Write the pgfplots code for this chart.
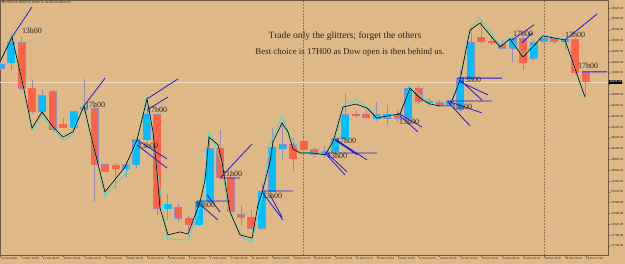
\documentclass[border=0pt]{standalone}
\usepackage{pgfplots}
\pgfplotsset{compat=1.18}
\usepackage{pgfplotstable}
\usepackage{fontspec}
\setmainfont{Liberation Serif}
\newfontfamily\tickfont{Liberation Sans}
\newfontfamily\symfont{DejaVu Sans}
\definecolor{bg}{RGB}{222,184,135}
\definecolor{bull}{RGB}{0,191,255}
\definecolor{bear}{RGB}{255,99,71}
\definecolor{wick}{RGB}{150,140,185}
\definecolor{zz}{RGB}{64,224,208}
\definecolor{tl}{RGB}{30,30,220}
\definecolor{axc}{RGB}{110,90,70}
\definecolor{txt}{RGB}{45,38,30}
\definecolor{pline}{RGB}{240,222,190}
\definecolor{sep}{RGB}{150,118,85}

% bullish (blue) candles: x o h l c
\pgfplotstableread{
x o h l c
0.6 48398 48428 48391 48413
11.05 48417 48513 48391 48491
42.4 48236 48317 48225 48295
73.75 48180 48243 48151 48236
84.2 48243 48358 48236 48254
126.0 48025 48054 47991 48040
136.45 48040 48139 48028 48132
146.9 48132 48243 48125 48228
167.8 47877 47932 47836 47895
199.15 47818 47910 47814 47906
209.6 47903 48143 47899 48099
261.85 47806 47973 47803 47943
272.3 47943 48176 47940 48106
282.75 48099 48199 48058 48114
324.55 48077 48114 48065 48088
335.0 48088 48143 48077 48136
345.45 48136 48306 48128 48225
376.8 48210 48273 48202 48225
387.25 48213 48262 48188 48228
408.15 48213 48332 48188 48324
429.05 48269 48287 48258 48276
449.95 48265 48280 48258 48273
460.4 48243 48391 48236 48361
470.85 48361 48546 48354 48491
512.65 48472 48513 48421 48506
533.55 48435 48502 48428 48491
544.0 48498 48524 48495 48506
564.9 48495 48509 48465 48502
}\bulltab

% bearish (red) candles: x o h l c
\pgfplotstableread{
x o h l c
21.5 48491 48513 48317 48324
31.95 48324 48354 48228 48236
52.85 48310 48317 48162 48169
63.3 48191 48213 48176 48180
94.65 48247 48262 47903 48040
105.1 48040 48047 48014 48017
115.55 48036 48047 47951 48025
157.35 48225 48232 47855 47880
178.25 47884 47895 47829 47843
188.7 47843 47851 47795 47818
220.05 48102 48169 47984 47995
230.5 47995 48003 47862 47869
240.95 47855 47892 47818 47847
251.4 47847 47873 47799 47806
293.2 48114 48139 48014 48062
303.65 48128 48139 48088 48095
314.1 48095 48102 48069 48080
355.9 48228 48243 48213 48221
366.35 48228 48243 48210 48217
397.7 48228 48243 48199 48213
418.6 48324 48332 48265 48273
439.5 48269 48280 48254 48262
481.3 48513 48576 48487 48495
491.75 48498 48517 48484 48491
502.2 48484 48502 48465 48472
523.1 48506 48513 48391 48417
554.45 48506 48513 48487 48495
575.35 48502 48509 48373 48380
585.8 48380 48380 48291 48347
}\beartab

\begin{document}
\begin{tikzpicture}
\useasboundingbox (0,0) rectangle (625pt,-264pt);
\fill[bg] (0,0) rectangle (625pt,-264pt);
\begin{axis}[
  at={(0pt,0pt)}, anchor=north west,
  scale only axis, width=608pt, height=255pt,
  xmin=0, xmax=608, ymin=47706.5, ymax=48650,
  clip mode=individual,
  axis line style={axc, line width=0.6pt},
  tick style={axc, line width=0.4pt},
  tick align=outside, major tick length=2pt,
  scaled y ticks=false,
  ytick={47740,47780,...,48620},
  ytick pos=right, yticklabel pos=right,
  /pgf/number format/assume math mode=true,
  /pgf/number format/fixed,
  /pgf/number format/fixed zerofill,
  /pgf/number format/precision=2,
  /pgf/number format/1000 sep={},
  yticklabel style={font=\tickfont\fontsize{2.9}{3.2}\selectfont, text=txt, inner sep=1pt},
  xtick={0.6,21.5,42.4,63.3,84.2,105.1,126.0,146.9,167.8,188.7,209.6,230.5,251.4,272.3,293.2,314.1,335.0,355.9,376.8,397.7,418.6,439.5,460.4,481.3,502.2,523.1,544.0,564.9,585.8},
  xticklabels={14 Dec 2020,14 Dec 13:00,14 Dec 21:00,15 Dec 05:00,15 Dec 13:00,15 Dec 21:00,16 Dec 05:00,16 Dec 13:00,16 Dec 21:00,17 Dec 05:00,17 Dec 13:00,17 Dec 21:00,18 Dec 05:00,18 Dec 13:00,18 Dec 21:00,21 Dec 05:00,21 Dec 13:00,21 Dec 21:00,22 Dec 05:00,22 Dec 13:00,22 Dec 21:00,23 Dec 05:00,23 Dec 13:00,23 Dec 21:00,24 Dec 05:00,24 Dec 13:00,28 Dec 01:00,28 Dec 09:00,28 Dec 17:00},
  xtick pos=bottom,
  xticklabel style={font=\tickfont\fontsize{2.8}{3.1}\selectfont, text=txt, anchor=north west, inner sep=0.8pt, xshift=-0.5pt},
]
% period separators
\addplot[sep, densely dotted, line width=0.5pt, forget plot] coordinates {(303.65,47706.5) (303.65,48650)};
\addplot[sep, densely dotted, line width=0.5pt, forget plot] coordinates {(544.0,47706.5) (544.0,48650)};
% bid line
\addplot[pline, line width=0.7pt, forget plot] coordinates {(0,48346.6) (608,48346.6)};

% wicks
\addplot[draw=none, forget plot, error bars/.cd, y dir=plus, y explicit, error mark=none,
  error bar style={draw=wick, line width=0.7pt, solid}]
  table[x=x, y=l, y error expr=\thisrow{h}-\thisrow{l}] {\bulltab};
\addplot[draw=none, forget plot, error bars/.cd, y dir=plus, y explicit, error mark=none,
  error bar style={draw=wick, line width=0.7pt, solid}]
  table[x=x, y=l, y error expr=\thisrow{h}-\thisrow{l}] {\beartab};
% bodies (outline then fill)
\addplot[draw=none, forget plot, error bars/.cd, y dir=plus, y explicit, error mark=none,
  error bar style={draw=wick, line width=8pt, solid}]
  table[x=x, y expr=\thisrow{o}-1.85, y error expr=\thisrow{c}-\thisrow{o}+3.7] {\bulltab};
\addplot[draw=none, forget plot, error bars/.cd, y dir=plus, y explicit, error mark=none,
  error bar style={draw=bull, line width=7pt, solid}]
  table[x=x, y=o, y error expr=\thisrow{c}-\thisrow{o}] {\bulltab};
\addplot[draw=none, forget plot, error bars/.cd, y dir=plus, y explicit, error mark=none,
  error bar style={draw=wick, line width=8pt, solid}]
  table[x=x, y expr=\thisrow{c}-1.85, y error expr=\thisrow{o}-\thisrow{c}+3.7] {\beartab};
\addplot[draw=none, forget plot, error bars/.cd, y dir=plus, y explicit, error mark=none,
  error bar style={draw=bear, line width=7pt, solid}]
  table[x=x, y=c, y error expr=\thisrow{o}-\thisrow{c}] {\beartab};

% cyan zigzag
\addplot[zz, line width=0.9pt, forget plot] coordinates {
(0,48421)(12,48521)(23,48336)(32,48169)(42,48225)(53,48173)(63,48132)(73,48151)(84,48265)(90,48162)
(105,47925)(127,48014)(137,48132)(147,48291)(152,48162)(167,47766)(188,47762)(203,47910)(209,48158)
(213,48132)(222,48040)(228,47877)(242,47773)(252,47755)(263,47940)(270,48114)(282,48221)(288,48162)
(300,48088)(315,48084)(325,48080)(335,48132)(344,48262)(356,48280)(367,48254)(377,48217)(387,48221)
(400,48228)(410,48328)(420,48299)(430,48269)(440,48258)(450,48258)(460,48354)(470,48546)(480,48583)
(500,48484)(510,48509)(523,48447)(543,48521)(565,48502)(585,48287)};
% black zigzag
\addplot[black, line width=0.6pt, forget plot] coordinates {
(0,48421)(12,48513)(23,48336)(32,48176)(42,48236)(53,48180)(63,48143)(73,48162)(84,48258)(90,48162)
(105,47940)(125,48032)(137,48132)(147,48284)(153,48162)(157,48014)(160,47880)(168,47781)(180,47792)
(188,47784)(200,47903)(205,47984)(209,48143)(218,48114)(222,48051)(230,47866)(240,47781)(252,47769)
(258,47892)(262,47936)(270,48051)(273,48125)(282,48195)(288,48162)(293,48099)(300,48084)(313,48084)
(325,48077)(333,48125)(343,48254)(356,48265)(367,48250)(377,48213)(387,48221)(400,48228)(410,48324)
(420,48287)(430,48265)(440,48258)(450,48258)(460,48354)(470,48539)(480,48565)(500,48476)(510,48506)
(523,48439)(543,48517)(565,48502)(585,48291)};
% blue trend lines
\addplot[tl, line width=0.8pt, unbounded coords=jump, forget plot] coordinates {
(12,48513)(32,48624)(32,nan)
(84,48258)(105,48361)(105,nan)
(147,48284)(178,48358)(178,nan)
(147,48243)(168,48291)(168,nan)
(137,48132)(167,48062)(167,nan)
(137,48114)(167,48028)(167,nan)
(197,47906)(230,47906)(230,nan)
(197,47903)(218,47836)(218,nan)
(207,47929)(220,47866)(220,nan)
(221,47995)(252,48117)(252,nan)
(220,47991)(240,47991)(240,nan)
(262,47943)(293,47943)(293,nan)
(262,47940)(283,47836)(283,nan)
(270,47929)(282,47847)(282,nan)
(325,48084)(377,48084)(377,nan)
(325,48084)(345,48003)(345,nan)
(328,48080)(347,48014)(347,nan)
(335,48136)(367,48058)(367,nan)
(335,48132)(357,48077)(357,nan)
(398,48232)(422,48180)(422,nan)
(400,48221)(418,48162)(418,nan)
(457,48361)(502,48361)(502,nan)
(447,48276)(492,48276)(492,nan)
(460,48354)(482,48280)(482,nan)
(460,48347)(488,48299)(488,nan)
(448,48273)(470,48184)(470,nan)
(450,48273)(482,48232)(482,nan)
(512,48502)(534,48558)(534,nan)
(522,48491)(532,48528)(532,nan)
(565,48502)(597,48598)(597,nan)
(582,48384)(607,48384)};

% hour labels
\begin{scope}[every node/.style={font=\fontsize{8}{9}\selectfont, text=txt, inner sep=0pt}]
\node at (axis cs:32,48535) {13h00};
\node at (axis cs:95,48261) {17h00};
\node at (axis cs:157,48243) {17h00};
\node at (axis cs:148,48110) {13h00};
\node at (axis cs:205,47891) {13h00};
\node at (axis cs:232,48006) {21h00};
\node at (axis cs:272,47925) {13h00};
\node at (axis cs:346,48128) {17h00};
\node at (axis cs:337,48073) {13h00};
\node at (axis cs:409,48199) {13h00};
\node at (axis cs:471,48354) {13h00};
\node at (axis cs:462,48254) {13h00};
\node at (axis cs:523,48524) {17h00};
\node at (axis cs:575,48520) {13h00};
\node at (axis cs:588,48406) {17h00};
\end{scope}
% texts
\node[font=\fontsize{9.6}{11}\selectfont, text=txt] at (axis cs:345,48517) {Trade only the glitters; forget the others};
\node[font=\fontsize{8.9}{10}\selectfont, text=txt] at (axis cs:350,48458) {Best choice is 17H00 as Dow open is then behind us.};
\node[anchor=north west, font=\tickfont\fontsize{3}{3.5}\selectfont, text=txt, inner sep=0pt] at (axis cs:2,48646) {{\symfont\fontsize{3}{3.5}\selectfont ▼} US30,H4 48350.52 48360.10 48340.63 48346.60};
\node[anchor=west, fill=black, text=white, font=\tickfont\fontsize{2.9}{3.2}\selectfont, inner sep=0.7pt] at (axis cs:608.6,48346.6) {48346.60};
\end{axis}
\end{tikzpicture}
\end{document}
